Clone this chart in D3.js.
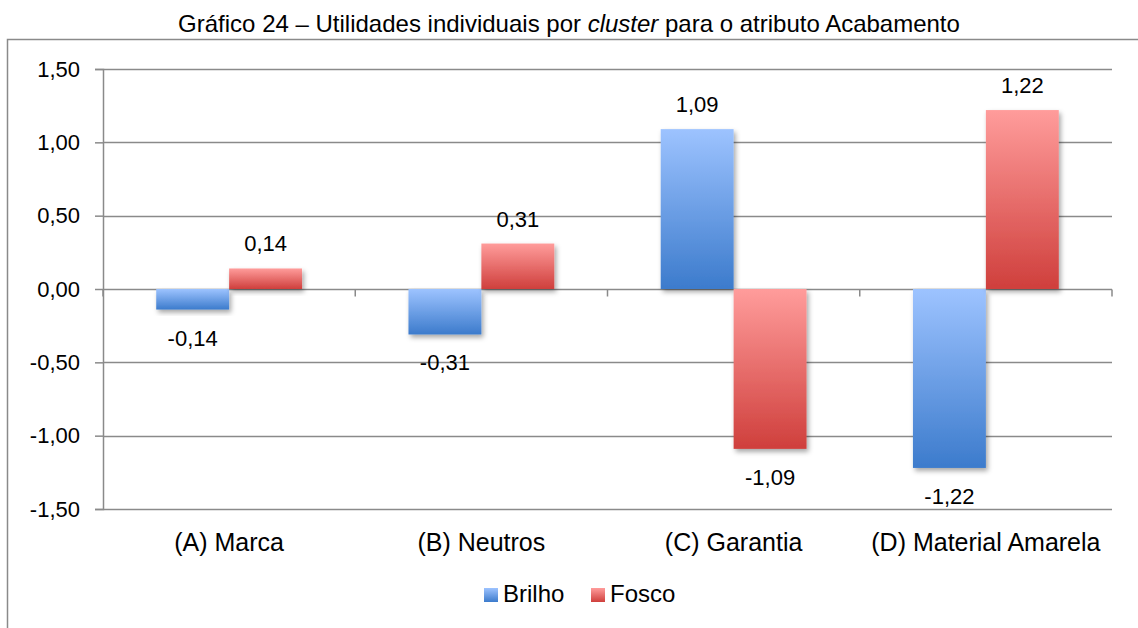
<!DOCTYPE html>
<html>
<head>
<meta charset="utf-8">
<script src="https://cdn.jsdelivr.net/npm/d3@7"></script>
<style>
    body { margin: 0; background: #fff; }
</style>
</head>
<body>
<div id="chart"></div>
<script>
// Data
const categories = ["(A) Marca", "(B) Neutros", "(C) Garantia", "(D) Material Amarela"];
const seriesNames = ["Brilho", "Fosco"];
const brilho = [-0.14, -0.31, 1.09, -1.22];
const fosco = [0.14, 0.31, -1.09, 1.22];
const yTicks = [-1.5, -1.0, -0.5, 0, 0.5, 1.0, 1.5];

const GRADS = [
    {id: "gBrilho", top: "#9dc3ff", bottom: "#3c7bcc"},
    {id: "gFosco", top: "#ff9c9b", bottom: "#cf3f3c"}
];
const FONT = "'Liberation Sans', Arial, sans-serif";

const W = 1138, H = 628;
const margin = {top: 69, right: 26, bottom: 119, left: 103};
const width = W - margin.left - margin.right;
const height = H - margin.top - margin.bottom;

const fmt = v => d3.format(".2f")(v).replace(".", ",").replace("−", "-");

let svg = d3.select("#chart").append("svg")
    .attr("width", W)
    .attr("height", H)
    .attr("font-family", FONT);

let defs = svg.append("defs");
GRADS.forEach(function (g) {
    let lg = defs.append("linearGradient")
        .attr("id", g.id)
        .attr("x1", 0).attr("y1", 0).attr("x2", 0).attr("y2", 1);
    lg.append("stop").attr("offset", "0%").attr("stop-color", g.top);
    lg.append("stop").attr("offset", "100%").attr("stop-color", g.bottom);
});
let shadow = defs.append("filter").attr("id", "shadow")
    .attr("x", "-20%").attr("y", "-20%").attr("width", "150%").attr("height", "150%");
shadow.append("feDropShadow")
    .attr("dx", 2).attr("dy", 3).attr("stdDeviation", 2.5)
    .attr("flood-color", "#000").attr("flood-opacity", 0.35);

// Outer frame (top and left edges)
svg.append("path")
    .attr("d", "M7.5,628 V39.5 H1138")
    .attr("fill", "none")
    .attr("stroke", "#8a8a8a")
    .attr("stroke-width", 1.5);

// Title
let title = svg.append("text")
    .attr("x", 569)
    .attr("y", 32)
    .attr("text-anchor", "middle")
    .attr("font-family", FONT)
    .attr("font-size", 24);
title.append("tspan").text("Gráfico 24 – Utilidades individuais por ");
title.append("tspan").attr("font-style", "italic").text("cluster");
title.append("tspan").text(" para o atributo Acabamento");

let g = svg.append("g")
    .attr("transform", "translate(" + margin.left + "," + margin.top + ")");

// Scales
let y = d3.scaleLinear().domain([-1.5, 1.5]).range([height, 0]);
let x0 = d3.scaleBand().domain(categories).range([0, width]).paddingInner(0).paddingOuter(0);
let x1 = d3.scaleBand().domain(seriesNames).range([0, x0.bandwidth()]).paddingInner(0).paddingOuter(0.73);

// Gridlines
g.append("g").selectAll("line")
    .data(yTicks)
    .join("line")
    .attr("x1", 0).attr("x2", width)
    .attr("y1", d => Math.round(y(d)) + 0.5).attr("y2", d => Math.round(y(d)) + 0.5)
    .attr("stroke", "#8a8a8a")
    .attr("stroke-width", 1.5);

// y axis
let yAxis = g.append("g")
    .call(d3.axisLeft(y).tickValues(yTicks).tickSize(8).tickFormat(fmt))
    .attr("font-family", FONT)
    .attr("font-size", 22);
yAxis.select(".domain").attr("stroke", "#8a8a8a").attr("stroke-width", 1.5);
yAxis.selectAll(".tick line").attr("stroke", "#8a8a8a").attr("stroke-width", 1.5);
yAxis.selectAll(".tick text")
    .attr("x", -23)
    .attr("fill", "#000");

// Category axis at zero, ticks between categories
let xAxis = g.append("g")
    .attr("transform", "translate(0," + (Math.round(y(0)) + 0.5) + ")");
xAxis.selectAll("line")
    .data(d3.range(categories.length + 1))
    .join("line")
    .attr("x1", i => i * x0.step()).attr("x2", i => i * x0.step())
    .attr("y1", 0).attr("y2", 7)
    .attr("stroke", "#8a8a8a")
    .attr("stroke-width", 1.5);

// Category labels below plot
g.append("g").selectAll("text")
    .data(categories)
    .join("text")
    .attr("x", d => x0(d) + x0.bandwidth() / 2)
    .attr("y", height + 42)
    .attr("text-anchor", "middle")
    .attr("font-family", FONT)
    .attr("font-size", 25)
    .text(d => d);

// Bars
let rows = categories.map(function (c, i) {
    return {cat: c, values: [{key: "Brilho", v: brilho[i]}, {key: "Fosco", v: fosco[i]}]};
});

let groups = g.append("g").selectAll("g")
    .data(rows)
    .join("g")
    .attr("transform", d => "translate(" + x0(d.cat) + ",0)");

groups.selectAll("rect")
    .data(d => d.values)
    .join("rect")
    .attr("x", d => x1(d.key))
    .attr("width", x1.bandwidth())
    .attr("y", d => y(Math.max(0, d.v)))
    .attr("height", d => Math.abs(y(d.v) - y(0)))
    .attr("fill", (d, i) => "url(#" + GRADS[i].id + ")")
    .attr("filter", "url(#shadow)");

groups.selectAll("text.val")
    .data(d => d.values)
    .join("text")
    .attr("class", "val")
    .attr("x", d => x1(d.key) + x1.bandwidth() / 2)
    .attr("y", d => d.v >= 0 ? y(d.v) - 17 : y(d.v) + 36)
    .attr("text-anchor", "middle")
    .attr("font-family", FONT)
    .attr("font-size", 22)
    .text(d => fmt(d.v));

// Legend
let legend = svg.append("g").attr("transform", "translate(484,588)");
let lx = [0, 107];
seriesNames.forEach(function (name, i) {
    legend.append("rect")
        .attr("x", lx[i]).attr("y", 0)
        .attr("width", 14).attr("height", 14)
        .attr("fill", "url(#" + GRADS[i].id + ")");
    legend.append("text")
        .attr("x", lx[i] + 19)
        .attr("y", 14)
        .attr("font-family", FONT)
        .attr("font-size", 24)
        .text(name);
});
</script>
</body>
</html>
